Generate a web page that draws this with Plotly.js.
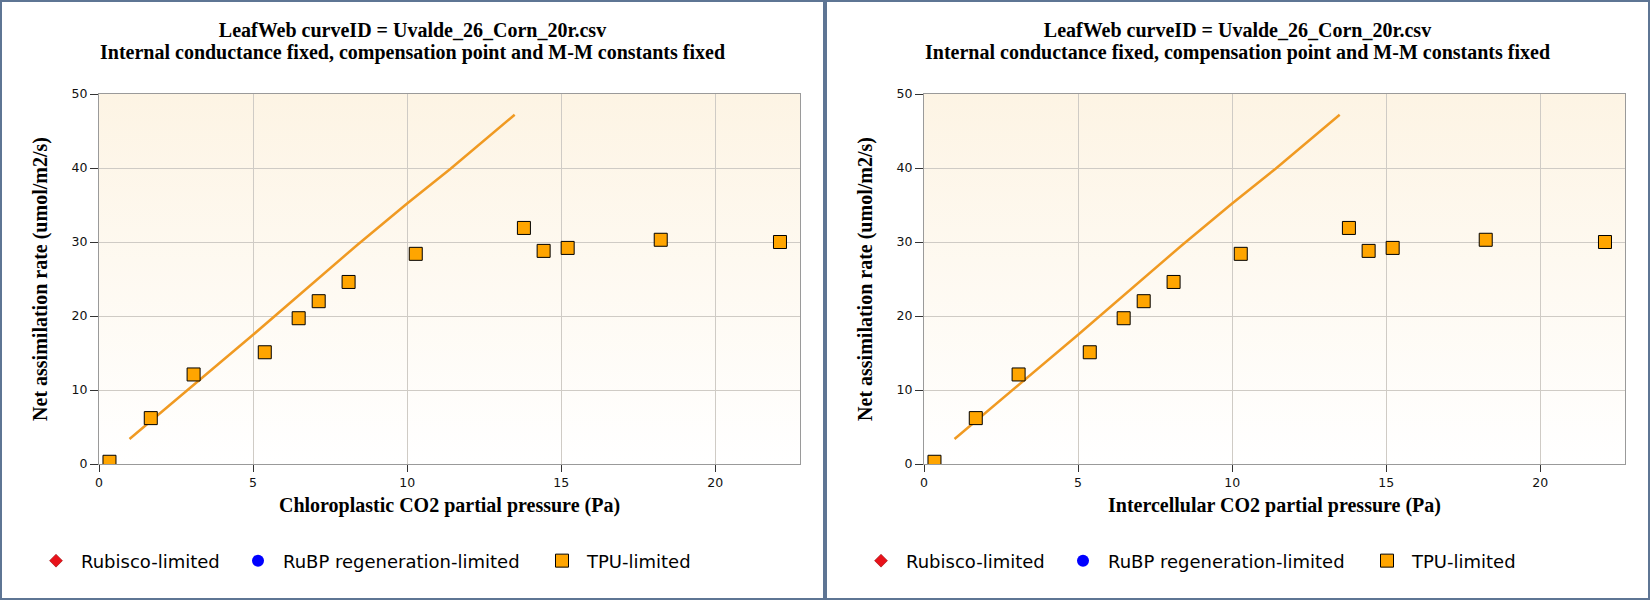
<!DOCTYPE html>
<html>
<head>
<meta charset="utf-8">
<script src="https://cdn.plot.ly/plotly-3.0.1.min.js"></script>
<style>
  html, body { margin: 0; padding: 0; background: #ffffff; }
  #wrap { width: 1650px; height: 600px; overflow: hidden; }
  .panel { float: left; width: 825px; height: 600px; box-sizing: border-box; border: 2px solid #5e7594; background: #fff; }
  .plot { width: 821px; height: 596px; }
</style>
</head>
<body>
<div id="wrap">
  <div class="panel"><div id="p1" class="plot"></div></div>
  <div class="panel"><div id="p2" class="plot"></div></div>
</div>
<script>
// ---- data ----
var titleLine1 = "LeafWeb curveID = Uvalde_26_Corn_20r.csv";
var titleLine2 = "Internal conductance fixed, compensation point and M-M constants fixed";
var xTitles = ["Chloroplastic CO2 partial pressure (Pa)", "Intercellular CO2 partial pressure (Pa)"];
var yTitle = "Net assimilation rate (umol/m2/s)";

var tpuX = [0.34, 1.68, 3.07, 5.38, 6.48, 7.13, 8.10, 10.28, 13.79, 14.43, 15.21, 18.23, 22.10];
var tpuY = [0.3, 6.2, 12.1, 15.1, 19.7, 22.0, 24.6, 28.4, 31.9, 28.8, 29.2, 30.3, 30.0];

var fitX = [0.99, 5.0, 8.38, 10.0, 11.41, 13.49];
var fitY = [3.38, 17.46, 29.6, 35.2, 39.9, 47.2];

// no points of these two kinds are visible in the picture (legend only)
var rubiscoX = [null], rubiscoY = [null];
var rubpX = [null], rubpY = [null];

var legendNames = ["Rubisco-limited", "RuBP regeneration-limited", "TPU-limited"];

// ---- background gradient for the plot area ----
var gradSvg = '<svg xmlns="http://www.w3.org/2000/svg" width="100" height="100" preserveAspectRatio="none">' +
  '<defs><linearGradient id="g" x1="0" y1="0" x2="0" y2="1">' +
  '<stop offset="0" stop-color="#fdf4e4"/><stop offset="1" stop-color="#ffffff"/></linearGradient></defs>' +
  '<rect width="100" height="100" fill="url(#g)"/></svg>';
var gradUri = 'data:image/svg+xml;base64,' + btoa(gradSvg);

function makeTraces() {
  return [
    { x: fitX, y: fitY, type: 'scatter', mode: 'lines', showlegend: false,
      line: { color: '#f09a22', width: 2.5 }, hoverinfo: 'skip' },
    { x: rubiscoX, y: rubiscoY, type: 'scatter', mode: 'markers', name: legendNames[0],
      legendwidth: 147,
      marker: { symbol: 'diamond', size: 10, color: '#e8121a', line: { color: '#8a1010', width: 0.5 } } },
    { x: rubpX, y: rubpY, type: 'scatter', mode: 'markers', name: legendNames[1],
      legendwidth: 249,
      marker: { symbol: 'circle', size: 12, color: '#0000ff', line: { width: 0 } } },
    { x: tpuX, y: tpuY, type: 'scatter', mode: 'markers', name: legendNames[2],
      marker: { symbol: 'square', size: 13, color: '#ffa500', line: { color: '#000000', width: 1 } } }
  ];
}

function makeLayout(xTitle) {
  var serif = { family: 'Liberation Serif, Times New Roman, serif', size: 20, color: '#000' };
  return {
    width: 821, height: 596,
    margin: { l: 97, r: 23, t: 92, b: 134, autoexpand: false },
    paper_bgcolor: '#ffffff',
    plot_bgcolor: 'rgba(0,0,0,0)',
    title: { text: '<b>' + titleLine1 + '</b>',
             font: serif, x: 0.5, xanchor: 'center', xref: 'container',
             yref: 'container', y: 1 - 27.5 / 596, yanchor: 'middle' },
    annotations: [{ text: '<b>' + titleLine2 + '</b>', font: serif, showarrow: false,
                    xref: 'paper', yref: 'paper', x: (410.5 - 97) / 701, xanchor: 'center',
                    y: 1 + (92 - 50.8) / 370, yanchor: 'middle' }],
    xaxis: {
      range: [0, 22.75], dtick: 5, tick0: 0,
      showgrid: true, gridcolor: '#cfcbc5', gridwidth: 1,
      zeroline: false, showline: true, linecolor: '#9a9a9a', linewidth: 1, mirror: true,
      ticks: 'outside', ticklen: 7, tickcolor: '#333', tickwidth: 1,
      tickfont: { family: 'DejaVu Sans, Verdana, sans-serif', size: 12.5, color: '#111' },
      title: { text: '<b>' + xTitle + '</b>', font: serif, standoff: 8 }
    },
    yaxis: {
      range: [0, 50], dtick: 10, tick0: 0,
      showgrid: true, gridcolor: '#cfcbc5', gridwidth: 1,
      zeroline: false, showline: true, linecolor: '#9a9a9a', linewidth: 1, mirror: true,
      ticks: 'outside', ticklen: 8, tickcolor: '#333', tickwidth: 1,
      tickfont: { family: 'DejaVu Sans, Verdana, sans-serif', size: 12.5, color: '#111' },
      title: { text: '<b>' + yTitle + '</b>', font: serif, standoff: 18 }
    },
    showlegend: true,
    legend: {
      orientation: 'h', x: -0.097, xanchor: 'left', y: -0.262, yanchor: 'middle',
      itemwidth: 40, bgcolor: 'rgba(0,0,0,0)', traceorder: 'normal',
      font: { family: 'DejaVu Sans, Verdana, sans-serif', size: 18, color: '#000' }
    },
    images: [{ source: gradUri, xref: 'paper', yref: 'paper', x: 0, y: 1, sizex: 1, sizey: 1,
               xanchor: 'left', yanchor: 'top', sizing: 'stretch', layer: 'below' }],
    hovermode: false
  };
}

var cfg = { displayModeBar: false, staticPlot: true };
Plotly.newPlot('p1', makeTraces(), makeLayout(xTitles[0]), cfg);
Plotly.newPlot('p2', makeTraces(), makeLayout(xTitles[1]), cfg);
</script>
</body>
</html>
